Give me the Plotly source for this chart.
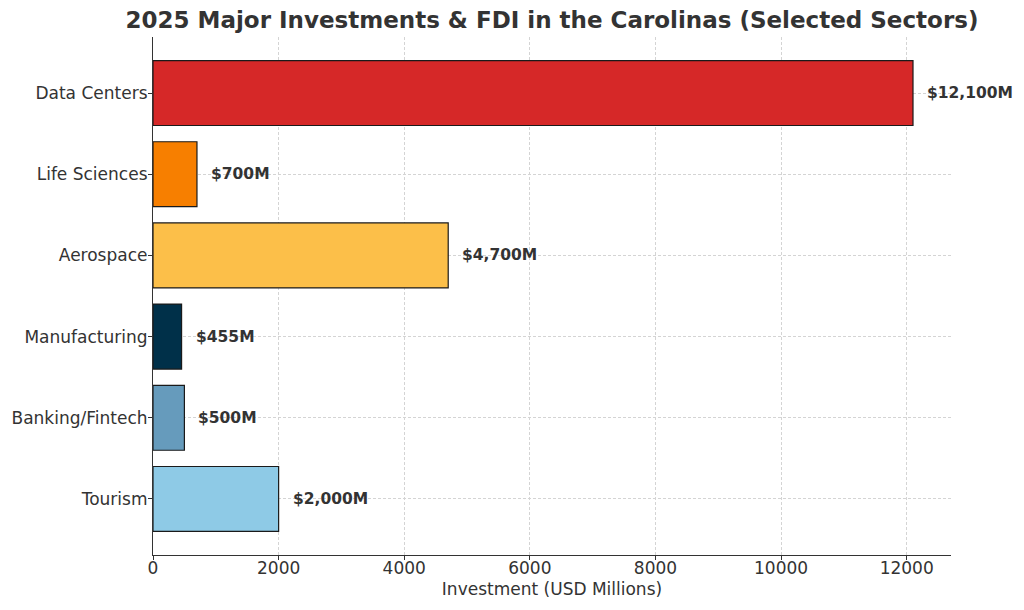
import plotly.graph_objects as go

categories = ["Data Centers", "Life Sciences", "Aerospace", "Manufacturing", "Banking/Fintech", "Tourism"]
values = [12100, 700, 4700, 455, 500, 2000]
labels = ["$12,100M", "$700M", "$4,700M", "$455M", "$500M", "$2,000M"]
colors = ["#d62828", "#f77f00", "#fcbf49", "#003049", "#669bbc", "#8ecae6"]
x_ticks = [0, 2000, 4000, 6000, 8000, 10000, 12000]

FONT = "DejaVu Sans"
TXT = "#333333"
W, H = 1008, 594

fig = go.Figure()
fig.add_trace(go.Bar(
    x=values, y=categories, orientation="h", width=0.8,
    marker=dict(color=colors, line=dict(color="#1a1a1a", width=1.2)),
    hoverinfo="skip",
))

for v, c, lab in zip(values, categories, labels):
    fig.add_annotation(x=v + 190, y=c, text="<b>" + lab + "</b>", showarrow=False,
                       xanchor="left", yanchor="middle",
                       font=dict(family=FONT, size=15.5, color=TXT))

fig.update_layout(
    width=W, height=H,
    margin=dict(l=145, r=65, t=29, b=47),
    paper_bgcolor="white", plot_bgcolor="white",
    showlegend=False,
    title=dict(text="<b>2025 Major Investments & FDI in the Carolinas (Selected Sectors)</b>",
               x=544/W, xanchor="center", y=1-12/H, yanchor="middle",
               font=dict(family=FONT, size=23, color=TXT)),
    font=dict(family=FONT, color=TXT),
)

fig.update_xaxes(
    range=[0, 12705], tickvals=x_ticks, ticktext=[str(t) for t in x_ticks],
    showline=True, linecolor="#333333", linewidth=1.2,
    ticks="outside", ticklen=4, tickcolor="#333333",
    ticklabelstandoff=-7,
    showgrid=True, gridcolor="#d4d4d4", griddash="3px,2px", gridwidth=0.8,
    zeroline=False, layer="above traces", automargin=False,
    tickfont=dict(family=FONT, size=17, color=TXT),
    title=dict(text="Investment (USD Millions)", standoff=6,
               font=dict(family=FONT, size=17, color=TXT)),
)
fig.update_yaxes(
    categoryorder="array", categoryarray=categories,
    range=[5.69, -0.69],
    showline=True, linecolor="#333333", linewidth=1.2,
    ticks="outside", ticklen=4, tickcolor="#333333",
    ticklabelstandoff=-3,
    showgrid=True, gridcolor="#d4d4d4", griddash="3px,2px", gridwidth=0.8,
    zeroline=False, layer="above traces", automargin=False,
    tickfont=dict(family=FONT, size=17, color=TXT),
)

fig.write_html("out.html")
